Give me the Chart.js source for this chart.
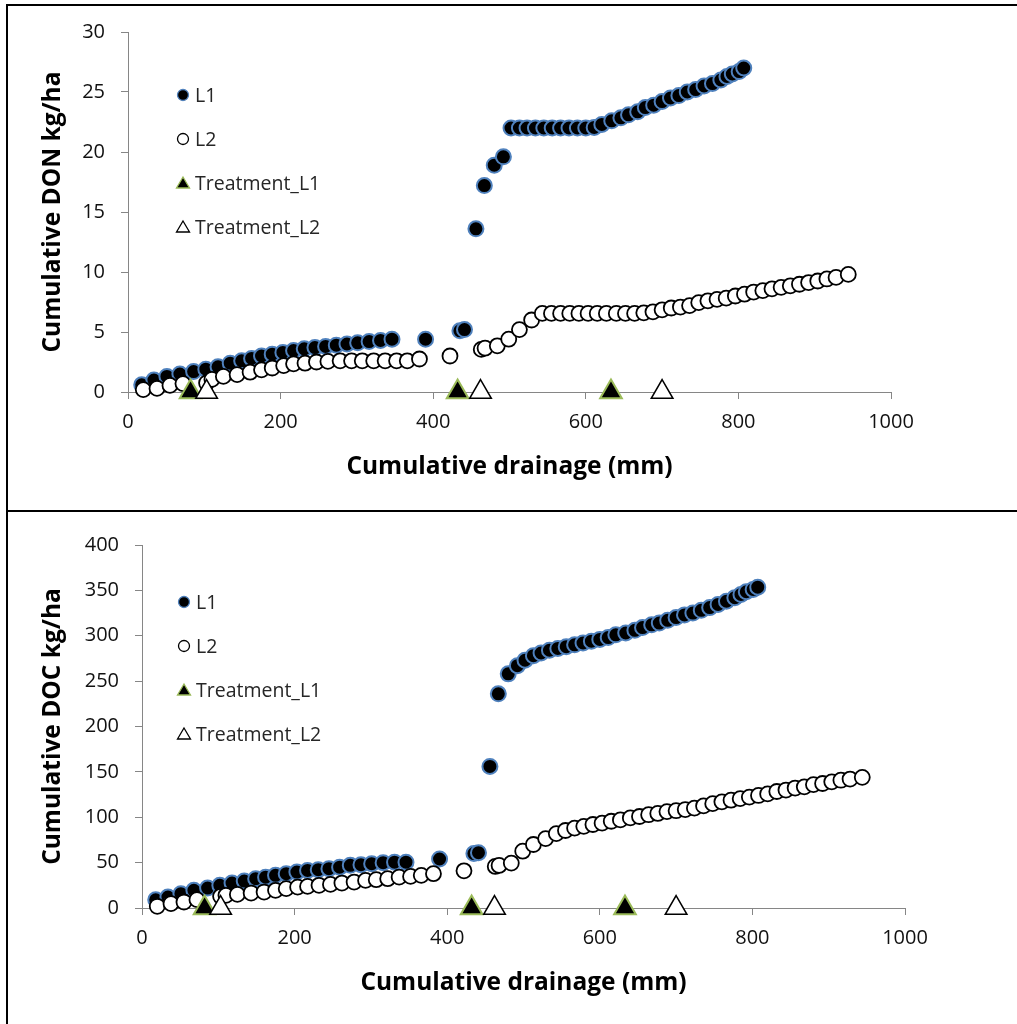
<!DOCTYPE html>
<html>
<head>
<meta charset="utf-8">
<script src="https://cdn.jsdelivr.net/npm/chart.js@4.4.1/dist/chart.umd.min.js"></script>
<style>
  html, body { margin: 0; padding: 0; background: #fff; }
  body { position: relative; width: 1017px; height: 1024px; overflow: hidden; }
  .line { position: absolute; background: #000; }
  canvas { position: absolute; left: 0; }
</style>
</head>
<body>
<div class="line" style="left:6px; top:4px; width:1011px; height:2px;"></div>
<div class="line" style="left:6px; top:4px; width:2px; height:1020px;"></div>
<div class="line" style="left:6px; top:510px; width:1011px; height:2px;"></div>
<canvas id="donChart" width="1017" height="510" style="top:0;"></canvas>
<canvas id="docChart" width="1017" height="512" style="top:512px;"></canvas>
<script>
// Cumulative drainage (mm) for each lysimeter
const drainL1 = [18, 34, 51, 68, 86, 102, 118, 134, 149, 162, 175, 189, 203, 217, 231, 245, 259, 273, 287, 301, 316, 331, 346,
  390, 435, 441, 456, 467, 480, 492,
  502, 513, 523, 534, 545, 556, 567, 578, 589, 600, 611, 621, 634, 646, 656, 668, 678, 689, 700, 711,
  722, 733, 744, 755, 766, 777, 785, 792, 801, 807];
const drainL2 = [20, 38, 55, 72, 103, 110, 125, 143, 160, 175, 189, 204, 217, 232, 247, 262, 278, 293, 307, 322,
  337, 352, 366, 382, 422, 463, 468, 484, 499, 513, 529,
  543, 555, 567, 579, 591, 603, 615, 627, 640, 652, 664, 676, 688, 700, 712, 724, 736, 748, 760, 772,
  784, 796, 808, 820, 832, 844, 856, 868, 880, 892, 904, 916, 928, 944];

// Cumulative DON (kg/ha)
const donL1 = [0.6, 1.0, 1.3, 1.5, 1.7, 1.9, 2.1, 2.4, 2.6, 2.8, 3.0, 3.15, 3.3, 3.45, 3.6, 3.7, 3.8, 3.9, 4.0, 4.1, 4.2, 4.3, 4.4,
  4.4, 5.1, 5.2, 13.6, 17.2, 18.9, 19.6,
  22.0, 22.0, 22.0, 22.0, 22.0, 22.0, 22.0, 22.0, 22.0, 22.0, 22.05, 22.3, 22.6, 22.85, 23.1, 23.35, 23.7, 23.9, 24.2, 24.5,
  24.7, 25.0, 25.2, 25.5, 25.7, 26.0, 26.3, 26.5, 26.7, 27.0];
const donL2 = [0.2, 0.3, 0.55, 0.7, 0.75, 1.05, 1.3, 1.45, 1.65, 1.85, 2.0, 2.2, 2.35, 2.4, 2.5, 2.55, 2.6, 2.6, 2.6, 2.6,
  2.6, 2.6, 2.6, 2.75, 3.0, 3.55, 3.65, 3.85, 4.4, 5.2, 6.0,
  6.55, 6.55, 6.55, 6.55, 6.55, 6.55, 6.55, 6.55, 6.55, 6.55, 6.55, 6.6, 6.68, 6.85, 7.0, 7.08, 7.2, 7.45, 7.6, 7.72,
  7.82, 8.0, 8.15, 8.33, 8.45, 8.6, 8.72, 8.85, 8.98, 9.12, 9.25, 9.42, 9.55, 9.8];

// Cumulative DOC (kg/ha)
const docL1 = [9, 12, 15.8, 19.5, 22, 25, 27.5, 29.7, 32.3, 34, 36, 37.8, 39.6, 41.4, 42.2, 43.3, 45, 47, 47.7, 48.8, 49.9, 50.5, 50.5,
  54, 60, 61, 156, 236, 258, 267,
  273, 278, 281, 284, 286, 288, 290, 292, 294, 296, 298, 301, 303, 306, 309, 312, 314, 317, 320, 323,
  325, 328, 331, 334.5, 338, 342, 345.5, 348.5, 351, 353.5];
const docL2 = [1.9, 4.8, 6.6, 9.2, 12.9, 14, 15, 16.5, 17.6, 19.5, 21.3, 23, 23.8, 25, 26, 27.5, 28.6, 30.4, 31.2, 32.3,
  34, 34.8, 36, 37.8, 41, 45.8, 46.9, 49.5, 62.6, 70, 76.5,
  82, 85.4, 88, 90, 92, 93.5, 95.6, 97.1, 99.3, 100.8, 102.8, 104.2, 106.2, 107.2, 108.5, 110, 112.5, 115, 117, 118.8,
  120.5, 122.2, 124, 125.7, 128.4, 130, 132.2, 133.5, 136, 137.2, 139, 140.8, 142.1, 144];

// Treatment dates, shown on the x axis
const treatL1 = [82, 432, 633];
const treatL2 = [103, 462, 700];
const treatY = [0, 0, 0];

const xTicks = [0, 200, 400, 600, 800, 1000];

function pts(xs, ys) {
  return xs.map((x, i) => ({ x: x, y: ys[i] }));
}

// small legend drawn inside the plot area
const keyPlugin = {
  id: 'sideKey',
  afterDraw(chart, args, opts) {
    const ctx = chart.ctx;
    const area = chart.chartArea;
    ctx.save();
    ctx.font = '19.5px "Open Sans"';
    ctx.textBaseline = 'middle';
    chart.data.datasets.forEach((ds, i) => {
      const x = area.left + opts.x;
      const y = area.top + opts.y + i * opts.gap;
      ctx.beginPath();
      if (ds.pointStyle === 'triangle') {
        ctx.moveTo(x, y - 6);
        ctx.lineTo(x + 6.5, y + 5);
        ctx.lineTo(x - 6.5, y + 5);
        ctx.closePath();
      } else {
        ctx.arc(x, y, 5.5, 0, Math.PI * 2);
      }
      ctx.fillStyle = ds.pointBackgroundColor;
      ctx.fill();
      ctx.lineWidth = 1.3;
      ctx.strokeStyle = ds.pointBorderColor;
      ctx.stroke();
      ctx.fillStyle = '#262626';
      ctx.fillText(ds.label, x + 12, y + 1);
    });
    ctx.restore();
  }
};

function makeChart(id, l1, l2, yMax, yStep, yTitle, yWidth, pad, key) {
  const ctx = document.getElementById(id).getContext('2d');
  return new Chart(ctx, {
    type: 'scatter',
    data: {
      datasets: [
        { label: 'L1', data: pts(drainL1, l1), pointStyle: 'circle', pointRadius: 7.5, pointBorderWidth: 2,
          pointBackgroundColor: '#000', pointBorderColor: '#4F81BD', order: 4, clip: false },
        { label: 'L2', data: pts(drainL2, l2), pointStyle: 'circle', pointRadius: 7.5, pointBorderWidth: 1.8,
          pointBackgroundColor: '#fff', pointBorderColor: '#000', order: 3, clip: false },
        { label: 'Treatment_L1', data: pts(treatL1, treatY), pointStyle: 'triangle', pointRadius: 12.5, pointBorderWidth: 2,
          pointBackgroundColor: '#000', pointBorderColor: '#9BBB59', order: 2, clip: false },
        { label: 'Treatment_L2', data: pts(treatL2, treatY), pointStyle: 'triangle', pointRadius: 12.5, pointBorderWidth: 1.5,
          pointBackgroundColor: '#fff', pointBorderColor: '#000', order: 1, clip: false }
      ]
    },
    options: {
      responsive: false,
      animation: false,
      layout: { padding: pad },
      plugins: {
        legend: { display: false },
        tooltip: { enabled: false },
        sideKey: key
      },
      scales: {
        x: {
          type: 'linear', min: 0, max: 1000,
          afterFit: s => { s.height = 100; },
          afterBuildTicks: s => { s.ticks = xTicks.map(v => ({ value: v })); },
          grid: { drawOnChartArea: false, drawTicks: true, tickLength: 7, color: '#868686' },
          border: { color: '#868686', width: 1 },
          ticks: { color: '#111', font: { family: 'Open Sans', size: 20 }, padding: 11,
            callback: v => String(v) },
          title: { display: true, text: 'Cumulative drainage (mm)', color: '#000',
            font: { family: 'Open Sans', size: 24.5, weight: 'bold' }, padding: { top: 0, bottom: 10 } }
        },
        y: {
          type: 'linear', min: 0, max: yMax,
          afterFit: s => { s.width = yWidth; },
          grid: { drawOnChartArea: false, drawTicks: true, tickLength: 7, color: '#868686' },
          border: { color: '#868686', width: 1 },
          ticks: { stepSize: yStep, color: '#111', font: { family: 'Open Sans', size: 20 }, padding: 16,
            callback: v => String(v) },
          title: { display: true, text: yTitle, color: '#000',
            font: { family: 'Open Sans', size: 24.5, weight: 'bold' }, padding: { top: 18, bottom: 0 } }
        }
      }
    },
    plugins: [keyPlugin]
  });
}

makeChart('donChart', donL1, donL2, 30, 5, 'Cumulative DON kg/ha', 108,
  { left: 20, top: 32, right: 126, bottom: 18 }, { x: 55, y: 63, gap: 44 });
makeChart('docChart', docL1, docL2, 400, 50, 'Cumulative DOC kg/ha', 122,
  { left: 20, top: 33, right: 112, bottom: 16 }, { x: 42, y: 57, gap: 44 });
</script>
</body>
</html>
